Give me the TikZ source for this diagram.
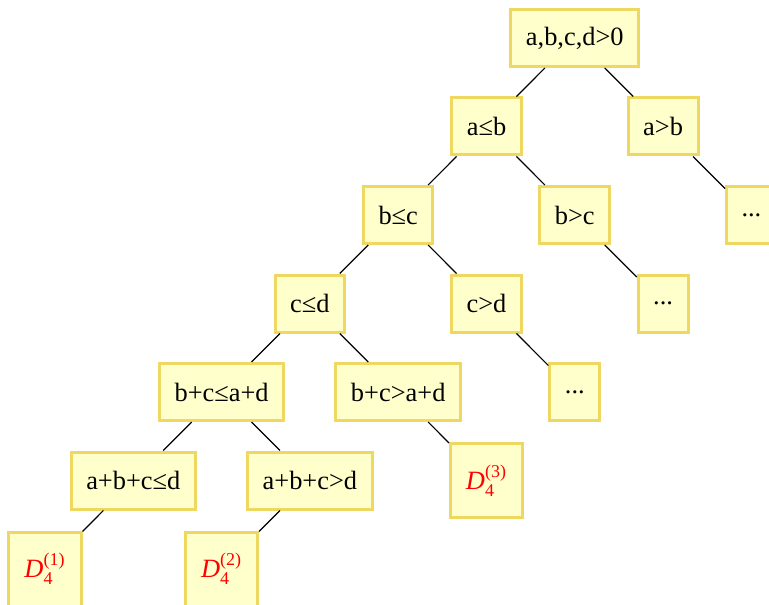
\documentclass[tikz,border=0pt]{standalone}
\usepackage{fontspec}
\setmainfont{Liberation Serif}
\usepackage{tikz}
\usetikzlibrary{arrows, shapes}
\definecolor{boxfill}{HTML}{FFFFCC}
\definecolor{boxline}{HTML}{EFD862}
\newcommand{\Dcase}[1]{\textit{D}$_{\hbox{\fontsize{9}{10}\selectfont 4}}^{\hbox{\fontsize{9}{10}\selectfont(#1)}}$}

\begin{document}
\begin{tikzpicture}[
		x = 44.15pt, y = -44.25pt,
		test/.style={rectangle, draw=boxline, fill=boxfill, line width=1.5pt,
			inner xsep=7.5pt, minimum height=28.5pt, font=\fontsize{13.2}{15}\selectfont},
		leaf/.style={test, minimum width=36pt, minimum height=37pt, text=red},
		branch/.style={black, line width=0.6pt},
		]

	\useasboundingbox (-22.5pt,19pt) rectangle (362pt,-283pt);

	\node (root) [test] at (6,0) {a,b,c,d>0};
	\node (AleB) [test] at (5,1) {a≤b};
	\node (AgtB) [test] at (7,1) {a>b};
	\node (BleC) [test] at (4,2) {b≤c};
	\node (BgtC) [test] at (6,2) {b>c};
	\node (more1) [test] at (8,2) {...};
	\node (CleD) [test] at (3,3) {c≤d};
	\node (CgtD) [test] at (5,3) {c>d};
	\node (more2) [test] at (7,3) {...};
	\node (SumLe) [test] at (2,4) {b+c≤a+d};
	\node (SumGt) [test] at (4,4) {b+c>a+d};
	\node (more3) [test] at (6,4) {...};
	\node (TripLe) [test] at (1,5) {a+b+c≤d};
	\node (TripGt) [test] at (3,5) {a+b+c>d};
	\node (D3) [leaf] at (5,5) {\Dcase{3}};
	\node (D1) [leaf] at (0,6) {\Dcase{1}};
	\node (D2) [leaf] at (2,6) {\Dcase{2}};

	\draw[branch] (root) -- (AleB);
	\draw[branch] (root) -- (AgtB);
	\draw[branch] (AgtB) -- (more1);
	\draw[branch] (AleB) -- (BleC);
	\draw[branch] (AleB) -- (BgtC);
	\draw[branch] (BgtC) -- (more2);
	\draw[branch] (BleC) -- (CleD);
	\draw[branch] (BleC) -- (CgtD);
	\draw[branch] (CgtD) -- (more3);
	\draw[branch] (CleD) -- (SumLe);
	\draw[branch] (CleD) -- (SumGt);
	\draw[branch] (SumGt) -- (D3);
	\draw[branch] (SumLe) -- (TripLe);
	\draw[branch] (SumLe) -- (TripGt);
	\draw[branch] (TripLe) -- (D1);
	\draw[branch] (TripGt) -- (D2);
\end{tikzpicture}
\end{document}
